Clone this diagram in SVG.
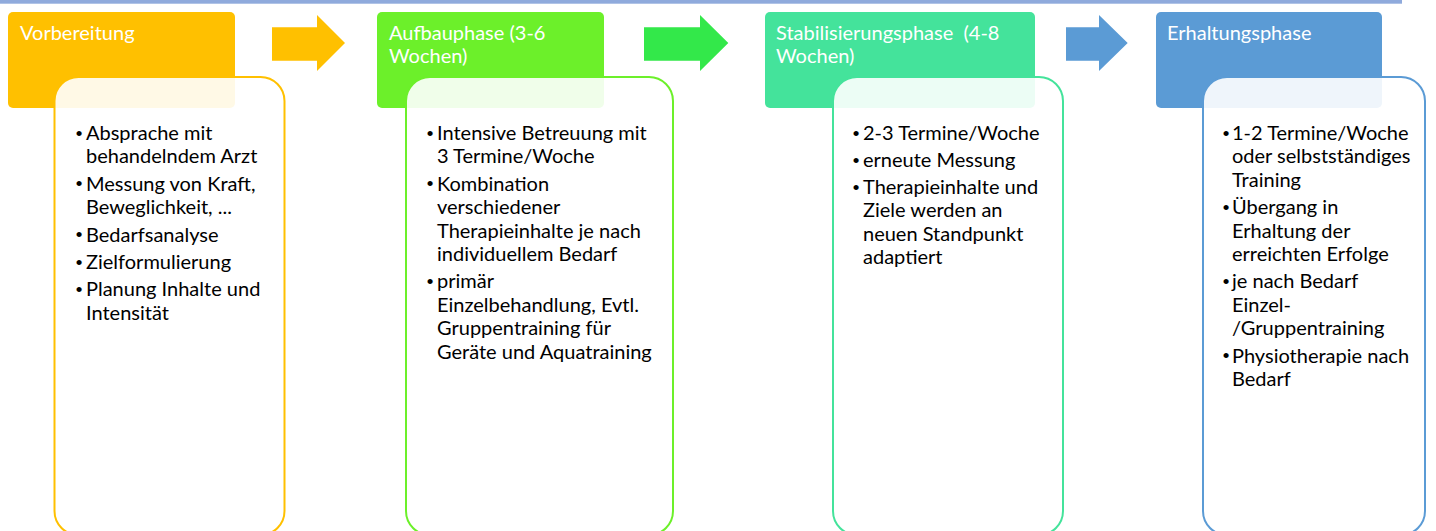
<svg xmlns="http://www.w3.org/2000/svg" width="1436" height="531" viewBox="0 0 1436 531">
<style>
.hd{font-family:"Lato","Liberation Sans",sans-serif;font-size:20px;fill:#ffffff;white-space:pre}
.tx{font-family:"Lato","Liberation Sans",sans-serif;font-size:20px;fill:#000000}
.bu{font-family:"Liberation Sans",sans-serif;font-size:19px;fill:#000000;text-anchor:middle}
.body{fill:#ffffff;fill-opacity:0.9;stroke-width:2}
</style>
<rect x="0" y="0" width="1402" height="3.7" fill="#8FAADC"/>
<g id="connectors">
<polygon points="272,27.3 317,27.3 317,15 345,43 317,71 317,60.7 272,60.7" fill="#FFC000"/>
<polygon points="644,27.3 700,27.3 700,15 728.3,43 700,71 700,60.7 644,60.7" fill="#33E84A"/>
<polygon points="1066,27.3 1099,27.3 1099,15 1127.7,43 1099,71 1099,60.7 1066,60.7" fill="#5B9BD5"/>
</g>
<g id="phase1">
<rect x="8" y="12" width="227" height="96" rx="5" fill="#FFC000"/>
<text class="hd" x="20" y="40">Vorbereitung</text>
<rect class="body" x="54.5" y="77" width="230" height="458" rx="24" stroke="#FFC000"/>
<g class="bu">
<text x="79" y="139.5">•</text>
<text x="79" y="190.3">•</text>
<text x="79" y="241.1">•</text>
<text x="79" y="268.5">•</text>
<text x="79" y="295.9">•</text>
</g>
<g class="tx">
<text x="86" y="140">Absprache mit</text>
<text x="86" y="163.4">behandelndem Arzt</text>
<text x="86" y="190.8">Messung von Kraft,</text>
<text x="86" y="214.2">Beweglichkeit, ...</text>
<text x="86" y="241.6">Bedarfsanalyse</text>
<text x="86" y="269">Zielformulierung</text>
<text x="86" y="296.4">Planung Inhalte und</text>
<text x="86" y="319.8">Intensität</text>
</g>
</g>
<g id="phase2">
<rect x="377" y="12" width="227" height="96" rx="5" fill="#6CF02A"/>
<text class="hd" x="389" y="40">Aufbauphase (3-6</text>
<text class="hd" x="389" y="63">Wochen)</text>
<rect class="body" x="406" y="77" width="267" height="458" rx="24" stroke="#6CF02A"/>
<g class="bu">
<text x="430" y="139.5">•</text>
<text x="430" y="190.3">•</text>
<text x="430" y="287.9">•</text>
</g>
<g class="tx">
<text x="437" y="140">Intensive Betreuung mit</text>
<text x="437" y="163.4">3 Termine/Woche</text>
<text x="437" y="190.8">Kombination</text>
<text x="437" y="214.2">verschiedener</text>
<text x="437" y="237.6">Therapieinhalte je nach</text>
<text x="437" y="261">individuellem Bedarf</text>
<text x="437" y="288.4">primär</text>
<text x="437" y="311.8">Einzelbehandlung, Evtl.</text>
<text x="437" y="335.2">Gruppentraining für</text>
<text x="437" y="358.6">Geräte und Aquatraining</text>
</g>
</g>
<g id="phase3">
<rect x="765" y="12" width="270" height="96" rx="5" fill="#44E39B"/>
<text class="hd" x="776" y="40">Stabilisierungsphase  (4-8</text>
<text class="hd" x="776" y="63">Wochen)</text>
<rect class="body" x="833" y="77" width="230" height="458" rx="24" stroke="#44E39B"/>
<g class="bu">
<text x="856" y="139.5">•</text>
<text x="856" y="166.5">•</text>
<text x="856" y="193.5">•</text>
</g>
<g class="tx">
<text x="863" y="140">2-3 Termine/Woche</text>
<text x="863" y="167">erneute Messung</text>
<text x="863" y="194">Therapieinhalte und</text>
<text x="863" y="217.4">Ziele werden an</text>
<text x="863" y="240.8">neuen Standpunkt</text>
<text x="863" y="264.2">adaptiert</text>
</g>
</g>
<g id="phase4">
<rect x="1156" y="12" width="226" height="96" rx="5" fill="#5B9BD5"/>
<text class="hd" x="1167" y="40">Erhaltungsphase</text>
<rect class="body" x="1203" y="77" width="222" height="458" rx="24" stroke="#5B9BD5"/>
<g class="bu">
<text x="1226" y="139.5">•</text>
<text x="1226" y="213.7">•</text>
<text x="1226" y="287.9">•</text>
<text x="1226" y="362.1">•</text>
</g>
<g class="tx">
<text x="1232" y="140">1-2 Termine/Woche</text>
<text x="1232" y="163.4">oder selbstständiges</text>
<text x="1232" y="186.8">Training</text>
<text x="1232" y="214.2">Übergang in</text>
<text x="1232" y="237.6">Erhaltung der</text>
<text x="1232" y="261">erreichten Erfolge</text>
<text x="1232" y="288.4">je nach Bedarf</text>
<text x="1232" y="311.8">Einzel-</text>
<text x="1232" y="335.2">/Gruppentraining</text>
<text x="1232" y="362.6">Physiotherapie nach</text>
<text x="1232" y="386">Bedarf</text>
</g>
</g>
</svg>
